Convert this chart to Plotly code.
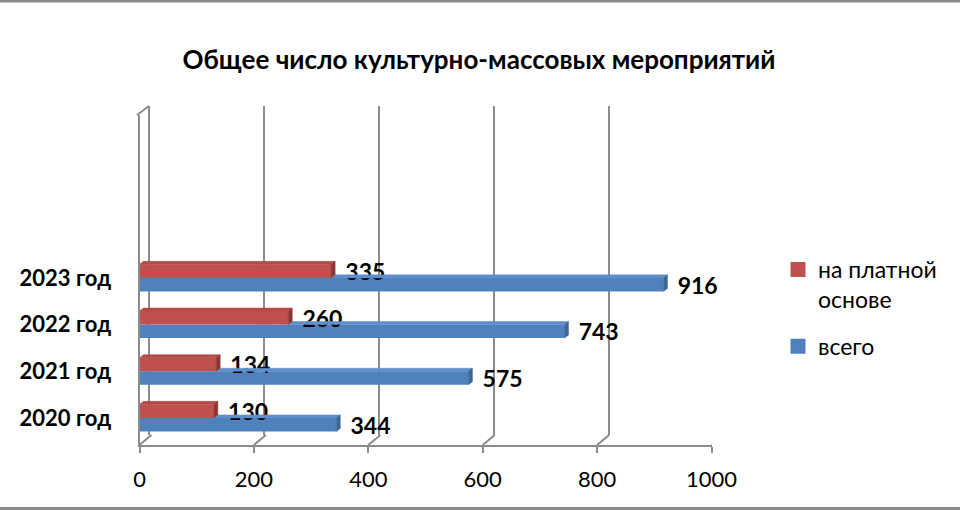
import plotly.graph_objects as go

# ---- data ----
categories = ["2020 год", "2021 год", "2022 год", "2023 год"]
paid = [130, 134, 260, 335]        # на платной основе
total = [344, 575, 743, 916]       # всего
x_ticks = [0, 200, 400, 600, 800, 1000]
title_text = "Общее число культурно-массовых мероприятий"
name_paid = "на платной<br>основе"
name_total = "всего"

# ---- layout helpers (pixels -> paper) ----
W, H = 960, 510
def px(x):
    return x / W
def py(y):
    return (H - y) / H

RED = "#C0504D"
BLUE = "#4F81BD"
GRID = "#8C8C8C"
FONT = "Lato"

pos = list(range(len(categories)))
BW = 0.29          # bar thickness in category units
DX, DY = 7, 0.065  # 3-D depth offsets (x in value units, y in category units)

fig = go.Figure()

# invisible trace to create the back (grid) subplot
fig.add_trace(go.Scatter(x=[x_ticks[0]], y=[0], mode="markers", marker=dict(opacity=0),
                         showlegend=False, hoverinfo="skip", xaxis="x", yaxis="y"))

fig.add_trace(go.Bar(
    y=[p - BW / 2 for p in pos], x=total, orientation="h", name=name_total, width=BW,
    marker=dict(color=BLUE, line=dict(width=0)),
    texttemplate="\u00a0\u00a0%{x}", textposition="outside", constraintext="none",
    textfont=dict(family=FONT, size=23, color="black", weight="bold"),
    cliponaxis=False, xaxis="x2", yaxis="y2", showlegend=False,
))
fig.add_trace(go.Bar(
    y=[p + BW / 2 for p in pos], x=paid, orientation="h", name=name_paid, width=BW,
    marker=dict(color=RED, line=dict(width=0)),
    texttemplate="\u00a0\u00a0%{x}", textposition="outside", constraintext="none",
    textfont=dict(family=FONT, size=23, color="black", weight="bold"),
    cliponaxis=False, xaxis="x2", yaxis="y2", showlegend=False,
))

# 3-D faces derived from the values
def faces(vals, start, y_top):
    top_x, top_y, side_x, side_y = [], [], [], []
    for v, s, y1 in zip(vals, start, y_top):
        y0 = y1 - BW
        top_x += [s, v, v + DX, s + DX, s, None]
        top_y += [y1, y1, y1 + DY, y1 + DY, y1, None]
        side_x += [v, v + DX, v + DX, v, v, None]
        side_y += [y0, y0 + DY, y1 + DY, y1, y0, None]
    return top_x, top_y, side_x, side_y

bt_x, bt_y, bs_x, bs_y = faces(total, paid, pos)
rt_x, rt_y, rs_x, rs_y = faces(paid, [0] * len(paid), [p + BW for p in pos])
for xs, ys, col in [(bt_x, bt_y, "#5F8FCB"), (bs_x, bs_y, "#3A6699"),
                    (rt_x, rt_y, "#B44A47"), (rs_x, rs_y, "#8E3533")]:
    fig.add_trace(go.Scatter(x=xs, y=ys, mode="lines", fill="toself", fillcolor=col,
                             line=dict(color=col, width=0.5), showlegend=False,
                             hoverinfo="skip", xaxis="x2", yaxis="y2", cliponaxis=False))

# legend entries (square swatches)
for nm, col, rank, grp in [(name_paid, RED, 1, "a"), (name_total, BLUE, 2, "b")]:
    fig.add_trace(go.Scatter(x=[None], y=[None], mode="markers", name=nm,
                             marker=dict(symbol="square", size=15, color=col),
                             xaxis="x2", yaxis="y2", legendrank=rank, legendgroup=grp))

# bottom perspective connectors from each tick
shapes = []
for t in x_ticks:
    shapes.append(dict(type="line", xref="x2", xsizemode="pixel", xanchor=t, x0=0, x1=12,
                       yref="paper", ysizemode="pixel", yanchor=py(445), y0=0, y1=10,
                       line=dict(color=GRID, width=2)))
# top-left wall connector
shapes.append(dict(type="line", xref="paper", yref="paper", x0=px(137), y0=py(115),
                   x1=px(149), y1=py(106), line=dict(color=GRID, width=2)))
# outer frame lines
shapes.append(dict(type="line", xref="paper", yref="paper", x0=0, x1=1, y0=py(1), y1=py(1),
                   line=dict(color="#8A8A8A", width=3)))
shapes.append(dict(type="line", xref="paper", yref="paper", x0=0, x1=1, y0=py(508.5), y1=py(508.5),
                   line=dict(color="#8A8A8A", width=3)))

fig.update_layout(
    width=W, height=H,
    margin=dict(l=0, r=0, t=0, b=0),
    paper_bgcolor="white", plot_bgcolor="rgba(0,0,0,0)",
    barmode="overlay",
    title=dict(text=title_text, x=px(479), xanchor="center", y=py(60), yanchor="middle",
               font=dict(family=FONT, size=26, color="black", weight="bold")),
    font=dict(family=FONT, color="black"),
    showlegend=True,
    legend=dict(x=px(778), y=py(248), xanchor="left", yanchor="top", valign="top",
                font=dict(family=FONT, size=23, color="black"),
                traceorder="grouped", bgcolor="rgba(0,0,0,0)", itemwidth=30,
                itemsizing="trace", tracegroupgap=14),
    # back wall grid subplot
    xaxis=dict(domain=[px(149), px(723.5)], range=[0, 1000], showgrid=True, gridcolor=GRID,
               gridwidth=2, zeroline=True, zerolinecolor=GRID, zerolinewidth=2,
               tickvals=x_ticks, showticklabels=False, ticks="", showline=False,
               anchor="y", fixedrange=True),
    yaxis=dict(domain=[py(435), py(106)], range=[0, 1], showgrid=False, zeroline=False,
               showticklabels=False, showline=False, anchor="x", fixedrange=True),
    # front subplot with bars
    xaxis2=dict(domain=[px(139.5), px(711.5)], range=[0, 1000], showgrid=False, zeroline=False,
                tickvals=x_ticks, ticks="outside", ticklen=6, tickcolor=GRID, tickwidth=2,
                showline=True, linecolor=GRID, linewidth=2, ticklabelstandoff=8,
                tickfont=dict(family=FONT, size=22, color="black"),
                anchor="y2", automargin=False, fixedrange=True),
    yaxis2=dict(domain=[py(445), py(115)], range=[-0.58, 6.49],
                tickvals=pos, ticktext=categories,
                showgrid=False, zeroline=False, showline=True, linecolor=GRID, linewidth=2,
                ticks="", ticklabelstandoff=22,
                tickfont=dict(family=FONT, size=22, color="black", weight="bold"),
                anchor="x2", automargin=False, fixedrange=True),
    shapes=shapes,
)

fig.write_html("out.html", config={"displayModeBar": False},
               post_script="document.body.style.margin='0';")
